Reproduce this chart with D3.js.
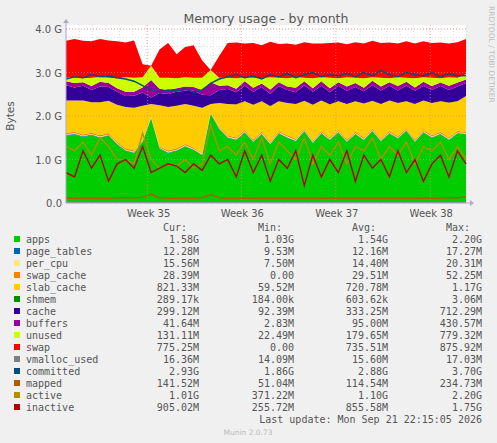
<!DOCTYPE html>
<html><head><meta charset="utf-8">
<script src="https://d3js.org/d3.v7.min.js"></script>
<style>body{margin:0;background:#f0f0f0}</style>
</head><body><svg id="vis"></svg>
<script>
// values in G, 48 samples over the month
var apps = [1.55,1.58,1.52,1.56,1.50,1.55,1.35,1.20,1.15,1.40,1.95,1.25,1.15,1.20,1.30,1.22,1.10,2.05,1.70,1.50,1.45,1.62,1.40,1.58,1.35,1.60,1.50,1.42,1.65,1.38,1.60,1.45,1.62,1.40,1.58,1.45,1.65,1.42,1.60,1.48,1.66,1.40,1.62,1.50,1.58,1.45,1.60,1.58];
var page_tables = [0.012,0.012,0.012,0.012,0.012,0.012,0.012,0.012,0.012,0.012,0.012,0.012,0.012,0.012,0.012,0.012,0.012,0.012,0.012,0.012,0.012,0.012,0.012,0.012,0.012,0.012,0.012,0.012,0.012,0.012,0.012,0.012,0.012,0.012,0.012,0.012,0.012,0.012,0.012,0.012,0.012,0.012,0.012,0.012,0.012,0.012,0.012,0.012];
var per_cpu = [0.015,0.015,0.015,0.015,0.015,0.015,0.015,0.015,0.015,0.015,0.015,0.015,0.015,0.015,0.015,0.015,0.015,0.015,0.015,0.015,0.015,0.015,0.015,0.015,0.015,0.015,0.015,0.015,0.015,0.015,0.015,0.015,0.015,0.015,0.015,0.015,0.015,0.015,0.015,0.015,0.015,0.015,0.015,0.015,0.015,0.015,0.015,0.015];
var swap_cache = [0.03,0.03,0.03,0.03,0.03,0.03,0.03,0.03,0.03,0.01,0.0,0.02,0.03,0.03,0.03,0.03,0.01,0.0,0.02,0.03,0.03,0.03,0.03,0.03,0.03,0.03,0.03,0.03,0.03,0.03,0.03,0.03,0.03,0.03,0.03,0.03,0.03,0.03,0.03,0.03,0.03,0.03,0.03,0.03,0.03,0.03,0.03,0.03];
var slab_cache = [0.75,0.72,0.78,0.70,0.76,0.74,0.85,0.95,0.98,0.80,0.30,0.95,1.00,0.98,0.92,0.96,1.05,0.20,0.55,0.72,0.76,0.66,0.80,0.70,0.82,0.68,0.74,0.80,0.64,0.82,0.70,0.76,0.66,0.82,0.70,0.78,0.64,0.80,0.70,0.76,0.62,0.82,0.68,0.74,0.70,0.80,0.68,0.82];
var shmem = [0.001,0.001,0.001,0.001,0.001,0.001,0.001,0.001,0.001,0.001,0.001,0.001,0.001,0.001,0.001,0.001,0.001,0.001,0.001,0.001,0.001,0.001,0.001,0.001,0.001,0.001,0.001,0.001,0.001,0.001,0.001,0.001,0.001,0.001,0.001,0.001,0.001,0.001,0.001,0.001,0.001,0.001,0.001,0.001,0.001,0.001,0.001,0.001];
var cache = [0.35,0.30,0.34,0.28,0.36,0.32,0.30,0.25,0.28,0.30,0.15,0.28,0.30,0.32,0.30,0.34,0.30,0.20,0.30,0.34,0.28,0.36,0.30,0.33,0.28,0.35,0.30,0.27,0.36,0.30,0.34,0.28,0.36,0.30,0.33,0.28,0.36,0.31,0.34,0.29,0.36,0.30,0.33,0.30,0.35,0.29,0.34,0.30];
var buffers = [0.09,0.10,0.08,0.09,0.11,0.09,0.08,0.10,0.09,0.12,0.40,0.10,0.09,0.08,0.10,0.09,0.11,0.30,0.10,0.09,0.08,0.10,0.09,0.08,0.10,0.09,0.08,0.10,0.09,0.08,0.10,0.09,0.08,0.10,0.09,0.08,0.10,0.09,0.08,0.10,0.09,0.08,0.10,0.09,0.08,0.10,0.09,0.08];
var unused = [0.08,0.13,0.09,0.19,0.11,0.12,0.23,0.33,0.32,0.23,0.33,0.25,0.28,0.23,0.21,0.21,0.28,0.28,0.18,0.17,0.24,0.09,0.23,0.12,0.28,0.10,0.19,0.24,0.08,0.23,0.09,0.24,0.09,0.21,0.12,0.22,0.08,0.20,0.09,0.20,0.09,0.21,0.10,0.19,0.10,0.19,0.11,0.13];
var swap = [0.85,0.88,0.86,0.84,0.87,0.86,0.85,0.80,0.86,0.30,0.0,0.65,0.80,0.55,0.70,0.75,0.40,0.0,0.50,0.80,0.82,0.78,0.80,0.76,0.82,0.78,0.80,0.75,0.82,0.80,0.78,0.80,0.82,0.76,0.82,0.80,0.84,0.80,0.82,0.78,0.84,0.80,0.83,0.80,0.82,0.78,0.82,0.80];
var vmalloc_used = [0.016,0.016,0.016,0.016,0.016,0.016,0.016,0.016,0.016,0.016,0.016,0.016,0.016,0.016,0.016,0.016,0.016,0.016,0.016,0.016,0.016,0.016,0.016,0.016,0.016,0.016,0.016,0.016,0.016,0.016,0.016,0.016,0.016,0.016,0.016,0.016,0.016,0.016,0.016,0.016,0.016,0.016,0.016,0.016,0.016,0.016,0.016,0.016];
var committed = [2.85,2.90,2.88,2.95,2.90,2.92,2.88,2.85,2.80,2.70,2.60,2.55,2.60,2.58,2.62,2.55,2.60,2.75,2.85,2.90,2.95,2.88,2.92,2.85,2.95,2.90,2.98,2.88,2.95,3.00,2.90,2.95,2.92,2.98,2.90,3.00,2.92,3.05,2.95,2.90,3.00,2.95,2.92,3.00,2.90,2.98,2.92,2.93];
var mapped = [0.11,0.11,0.11,0.11,0.11,0.11,0.12,0.12,0.12,0.13,0.20,0.12,0.11,0.11,0.11,0.11,0.12,0.19,0.12,0.11,0.11,0.11,0.11,0.11,0.11,0.11,0.11,0.11,0.11,0.11,0.11,0.11,0.11,0.11,0.11,0.11,0.11,0.11,0.11,0.11,0.11,0.11,0.11,0.11,0.11,0.12,0.12,0.14];
var active = [1.30,1.20,1.40,1.10,1.50,1.30,1.00,1.00,0.90,1.60,1.00,0.80,0.90,0.85,1.00,0.80,0.90,1.80,1.20,1.30,1.10,1.40,1.00,1.50,0.90,1.40,1.20,1.00,1.50,0.90,1.30,1.10,1.40,0.90,1.30,1.20,1.50,1.00,1.30,1.10,1.40,0.90,1.30,1.20,1.40,1.00,1.30,1.00];
var inactive = [0.70,0.60,1.20,0.80,1.10,0.50,0.90,1.00,0.80,1.30,0.70,0.80,0.90,0.85,0.70,0.90,0.75,1.10,0.90,1.00,0.60,1.20,0.70,1.10,0.50,1.00,0.80,1.20,0.40,1.10,0.60,1.00,0.70,1.20,0.50,1.10,0.80,1.00,0.60,1.20,0.70,1.00,0.50,0.90,1.10,0.60,1.20,0.90];

var weekLabels = ["Week 35","Week 36","Week 37","Week 38"];
var weekPos = [9.6,20.6,31.7,42.8]; // sample index where each week starts
var yTicks = [0,1,2,3,4];

var legendNames = ["apps","page_tables","per_cpu","swap_cache","slab_cache","shmem","cache","buffers","unused","swap","vmalloc_used","committed","mapped","active","inactive"];
var legendColors = ["#00cc00","#0066b3","#ffe680","#ff8000","#ffcc00","#008f00","#330099","#990099","#ccff00","#ff0000","#808080","#004d80","#b35a00","#b38f00","#b30000"];
var cur = ["1.58G","12.28M","15.56M","28.39M","821.33M","289.17k","299.12M","41.64M","131.11M","775.25M","16.36M","2.93G","141.52M","1.01G","905.02M"];
var mins = ["1.03G","9.53M","7.50M","0.00","59.52M","184.00k","92.39M","2.83M","22.49M","0.00","14.09M","1.86G","51.04M","371.22M","255.72M"];
var avgs = ["1.54G","12.16M","14.40M","29.51M","720.78M","603.62k","333.25M","95.00M","179.65M","735.51M","15.60M","2.88G","114.54M","1.10G","855.58M"];
var maxs = ["2.20G","17.27M","20.31M","52.25M","1.17G","3.06M","712.29M","430.57M","779.32M","875.92M","17.03M","3.70G","234.73M","2.20G","1.75G"];

var W = 497, H = 443, L = 66, R = 466, T = 29, B = 203;
var mono = "DejaVu Sans Mono", sans = "DejaVu Sans";
var svg = d3.select("#vis").attr("width", W).attr("height", H);
svg.append("rect").attr("width", W).attr("height", H).attr("fill", "#f0f0f0");
svg.append("rect").attr("x", L).attr("y", T - 4).attr("width", R - L).attr("height", B - T + 4).attr("fill", "#fff");

var n = apps.length;
var x = d3.scaleLinear().domain([0, n - 1]).range([L, R]);
var y = d3.scaleLinear().domain([0, 4]).range([B, T]);

// grid
var minorX = d3.range(0, n, 1.57);
svg.selectAll(".gx").data(minorX).enter().append("line")
  .attr("x1", d => x(d)).attr("x2", d => x(d)).attr("y1", T - 4).attr("y2", B)
  .attr("stroke", "#ddd").attr("stroke-dasharray", "1,2");
svg.selectAll(".gy").data(d3.range(0, 4.01, 0.2)).enter().append("line")
  .attr("x1", L).attr("x2", R).attr("y1", d => y(d)).attr("y2", d => y(d))
  .attr("stroke", "#ddd").attr("stroke-dasharray", "1,2");

// stacked areas
var stackKeys = ["apps","page_tables","per_cpu","swap_cache","slab_cache","shmem","cache","buffers","unused","swap"];
var series = {apps, page_tables, per_cpu, swap_cache, slab_cache, shmem, cache, buffers, unused, swap};
var rows = d3.range(n).map(i => { var o = {}; stackKeys.forEach(k => o[k] = series[k][i]); return o; });
var stacked = d3.stack().keys(stackKeys)(rows);
var area = d3.area().x((d, i) => x(i)).y0(d => y(d[0])).y1(d => y(d[1]));
svg.selectAll(".ar").data(stacked).enter().append("path")
  .attr("d", area).attr("fill", d => legendColors[legendNames.indexOf(d.key)]);

// major grid
svg.selectAll(".my").data(yTicks).enter().append("line")
  .attr("x1", L).attr("x2", R).attr("y1", d => y(d)).attr("y2", d => y(d))
  .attr("stroke", "#e88").attr("stroke-dasharray", "1,2").attr("opacity", 0.7);
svg.selectAll(".mx").data(weekPos).enter().append("line")
  .attr("x1", d => x(d)).attr("x2", d => x(d)).attr("y1", T - 4).attr("y2", B)
  .attr("stroke", "#e88").attr("stroke-dasharray", "1,2").attr("opacity", 0.7);

// lines
var lines = [["vmalloc_used", vmalloc_used],["committed", committed],["mapped", mapped],["active", active],["inactive", inactive]];
var line = d3.line().x((d, i) => x(i)).y(d => y(d));
lines.forEach(function(l) {
  svg.append("path").attr("d", line(l[1])).attr("fill", "none")
    .attr("stroke", legendColors[legendNames.indexOf(l[0])]).attr("stroke-width", 1.4);
});

// axes
svg.append("line").attr("x1", L).attr("x2", R + 6).attr("y1", B).attr("y2", B).attr("stroke", "#aac");
svg.append("line").attr("x1", L).attr("x2", L).attr("y1", B).attr("y2", T - 8).attr("stroke", "#aac");
svg.append("path").attr("d", `M${R+4},${B-3}L${R+8},${B}L${R+4},${B+3}Z`).attr("fill", "#aac");
svg.append("path").attr("d", `M${L-3},${T-6}L${L},${T-10}L${L+3},${T-6}Z`).attr("fill", "#aac");

svg.selectAll(".yl").data(yTicks).enter().append("text")
  .attr("x", L - 4).attr("y", d => y(d) + 4).attr("text-anchor", "end")
  .attr("font-size", 10).attr("fill", "#555").attr("font-family", sans)
  .text(d => d.toFixed(1) + (d === 0 ? "" : " G"));
svg.selectAll(".xl").data(weekLabels).enter().append("text")
  .attr("x", (d, i) => x(weekPos[i]) + 1).attr("y", B + 14).attr("text-anchor", "middle")
  .attr("font-size", 10).attr("fill", "#555").attr("font-family", sans).text(d => d);

svg.append("text").attr("x", 266).attr("y", 23).attr("text-anchor", "middle")
  .attr("font-size", 12.5).attr("fill", "#555").attr("font-family", sans).text("Memory usage - by month");
svg.append("text").attr("transform", "translate(14,116) rotate(-90)").attr("text-anchor", "middle")
  .attr("font-size", 10.5).attr("fill", "#555").attr("font-family", sans).text("Bytes");
svg.append("text").attr("transform", "translate(489,6) rotate(90)")
  .attr("font-size", 7.5).attr("fill", "#bbb").attr("font-family", sans).text("RRDTOOL / TOBI OETIKER");

// legend
var cols = [199, 294, 388, 482];
["Cur:","Min:","Avg:","Max:"].forEach((h, j) => {
  svg.append("text").attr("x", cols[j] - 12).attr("y", 231).attr("text-anchor", "end")
    .attr("font-size", 10).attr("fill", "#555").attr("font-family", mono).text(h);
});
var cells = [cur, mins, avgs, maxs];
legendNames.forEach(function(name, i) {
  var yy = 243 + i * 12;
  svg.append("rect").attr("x", 14).attr("y", yy - 7).attr("width", 6).attr("height", 6).attr("fill", legendColors[i]);
  svg.append("text").attr("x", 26).attr("y", yy).attr("font-size", 10).attr("fill", "#555").attr("font-family", mono).text(name);
  cells.forEach((c, j) => {
    svg.append("text").attr("x", cols[j]).attr("y", yy).attr("text-anchor", "end")
      .attr("font-size", 10).attr("fill", "#555").attr("font-family", mono).text(c[i]);
  });
});
svg.append("text").attr("x", 482).attr("y", 423).attr("text-anchor", "end")
  .attr("font-size", 10).attr("fill", "#555").attr("font-family", mono).text("Last update: Mon Sep 21 22:15:05 2026");
svg.append("text").attr("x", 248).attr("y", 435).attr("text-anchor", "middle")
  .attr("font-size", 7.5).attr("fill", "#bbb").attr("font-family", sans).text("Munin 2.0.73");
</script></body></html>
